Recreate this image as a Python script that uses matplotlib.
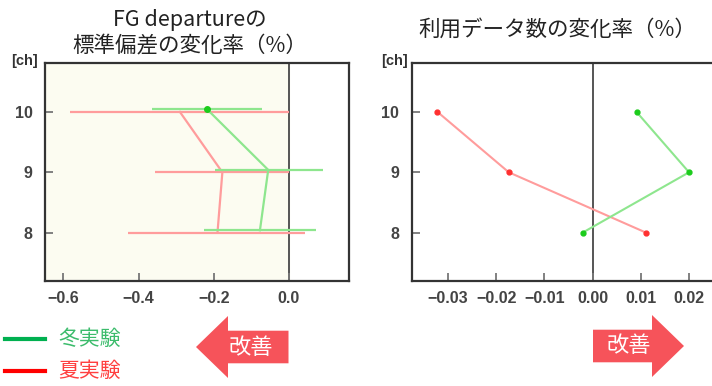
import matplotlib
matplotlib.use('Agg')
import matplotlib.pyplot as plt
from matplotlib.patches import Polygon

plt.rcParams['font.family'] = ['Noto Sans CJK JP', 'DejaVu Sans']

# channel numbers (top to bottom)
channels = [10, 9, 8]

# FG departure std change rate (%) : mean and range per channel
summer_std_mean = [-0.290, -0.177, -0.190]
summer_std_lo = [-0.583, -0.355, -0.427]
summer_std_hi = [0.000, 0.000, 0.043]
winter_std_mean = [-0.217, -0.055, -0.077]
winter_std_lo = [-0.365, -0.197, -0.226]
winter_std_hi = [-0.071, 0.090, 0.072]

# change rate of number of used data (%)
summer_count = [-0.0322, -0.0174, 0.0111]
winter_count = [0.0091, 0.0200, -0.0021]

left_ticks = [-0.6, -0.4, -0.2, 0.0]
left_ticklabels = ['\u22120.6', '\u22120.4', '\u22120.2', '0.0']
right_ticks = [-0.03, -0.02, -0.01, 0.00, 0.01, 0.02]
right_ticklabels = ['\u22120.03', '\u22120.02', '\u22120.01', '0.00', '0.01', '0.02']

RED_LINE = '#ff9c9c'
GREEN_LINE = '#8ee68e'
RED_DOT = '#ff3030'
GREEN_DOT = '#1ccc1c'
ARROW = '#f6535a'
W, H = 712, 386


def px(x, y):
    '''pixel position (origin top-left) -> figure fraction'''
    return x / W, 1 - y / H


def style_axes(ax):
    for side in ['left', 'top', 'bottom', 'right']:
        ax.spines[side].set_color('#333333')
        ax.spines[side].set_linewidth(1.6)
    ax.tick_params(direction='in', length=6, width=1.3, color='#777777',
                   labelsize=11.5, labelcolor='#444444')
    ax.tick_params(axis='y', pad=9)
    ax.tick_params(axis='x', pad=7)
    ax.set_yticks(channels)
    ax.set_yticklabels([str(c) for c in channels], family='Liberation Sans', weight='bold')
    ax.set_ylim(7.2, 10.81)
    ax.axvline(0, color='#555555', lw=1.4, zorder=1)


fig = plt.figure(figsize=(W / 100, H / 100), dpi=100)

# ---- left panel: std change rate
ax1 = fig.add_axes([45 / W, 1 - 281 / H, 304 / W, 218 / H])
style_axes(ax1)
ax1.set_xlim(-0.649, 0.16)
ax1.axvspan(-0.649, 0, color='#fcfcf1', zorder=0)
ax1.set_xticks(left_ticks)
ax1.set_xticklabels(left_ticklabels, family='Liberation Sans', weight='bold')

ax1.hlines(channels, summer_std_lo, summer_std_hi, color=RED_LINE, lw=1.6, zorder=2)
ax1.plot(summer_std_mean, channels, color=RED_LINE, lw=1.6, zorder=2)
winter_y = [c + 0.04 for c in channels]
ax1.hlines(winter_y, winter_std_lo, winter_std_hi, color=GREEN_LINE, lw=1.6, zorder=3)
ax1.plot(winter_std_mean, winter_y, color=GREEN_LINE, lw=1.6, zorder=3)
ax1.plot(winter_std_mean[0], winter_y[0], 'o', color=GREEN_DOT, ms=4, zorder=4)

# ---- right panel: data count change rate
ax2 = fig.add_axes([411.7 / W, 1 - 281 / H, 313 / W, 218 / H])
style_axes(ax2)
ax2.set_xlim(-0.03755, 0.0274)
ax2.set_xticks(right_ticks)
ax2.set_xticklabels(right_ticklabels, family='Liberation Sans', weight='bold')
ax2.plot(summer_count, channels, color=RED_LINE, lw=1.5, zorder=2)
ax2.plot(summer_count, channels, 'o', color=RED_DOT, ms=3.5, zorder=3)
ax2.plot(winter_count, channels, color=GREEN_LINE, lw=1.5, zorder=2)
ax2.plot(winter_count, channels, 'o', color=GREEN_DOT, ms=3.5, zorder=3)

# ---- titles and [ch] labels
fig.text(*px(190, 20), 'FG departureの', ha='center', va='center', fontsize=15.5, color='#222222')
fig.text(*px(190, 46.5), '標準偏差の変化率（%）', ha='center', va='center', fontsize=15.5, color='#222222')
fig.text(*px(557, 30), '利用データ数の変化率（%）', ha='center', va='center', fontsize=15.5, color='#222222')
for x in (38, 408):
    fig.text(*px(x, 61), '[ch]', ha='right', va='center', fontsize=10.5,
             color='#333333', family='Liberation Sans', weight='bold')

# ---- legend
for y, color, tcolor, label in [(339, '#00b050', '#3cbc6c', '冬実験'),
                                (371, '#ff0000', '#ff4040', '夏実験')]:
    fig.add_artist(plt.Line2D([5 / W, 45 / W], [1 - y / H] * 2, color=color, lw=3))
    fig.text(*px(58, y), label, ha='left', va='center', fontsize=15, color=tcolor)


# ---- "improvement" arrows
def arrow(tip, head_base, body_end, yc, body_half=16.3, head_half=31):
    pts = [(tip, yc), (head_base, yc - head_half), (head_base, yc - body_half),
           (body_end, yc - body_half), (body_end, yc + body_half),
           (head_base, yc + body_half), (head_base, yc + head_half)]
    fig.add_artist(Polygon([px(x, y) for x, y in pts], closed=True,
                           facecolor=ARROW, edgecolor='none', transform=fig.transFigure))


arrow(196, 228, 288.5, 347)
fig.text(*px(251, 347), '改善', ha='center', va='center', fontsize=16, color='white')
arrow(684, 652, 593, 346)
fig.text(*px(629, 346), '改善', ha='center', va='center', fontsize=16, color='white')

fig.savefig('out.png', dpi=100)
